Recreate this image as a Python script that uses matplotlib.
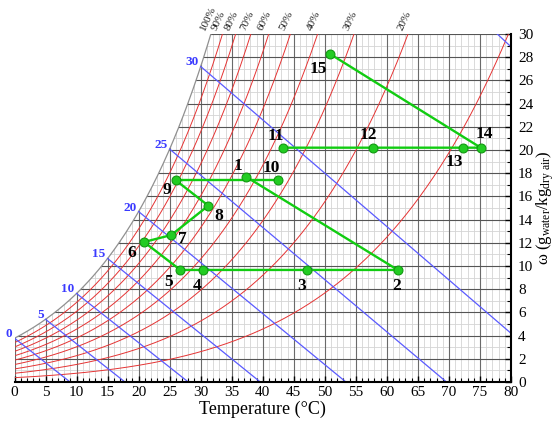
import numpy as np
import matplotlib
matplotlib.use("Agg")
import matplotlib.pyplot as plt
from matplotlib.patches import Polygon

plt.rcParams['font.family'] = ['Liberation Serif', 'DejaVu Serif']
plt.rcParams['mathtext.fontset'] = 'custom'
plt.rcParams['mathtext.rm'] = 'Liberation Serif'
plt.rcParams['mathtext.it'] = 'Liberation Serif:italic'

# ---- data ----
rh_levels = [10, 20, 30, 40, 50, 60, 70, 80, 90, 100]
rh_labels = ['20%', '30%', '40%', '50%', '60%', '70%', '80%', '90%', '100%']
wb_temps = [0, 5, 10, 15, 20, 25, 30, 40]
wb_labels = ['0', '5', '10', '15', '20', '25', '30']
wb_end_T = [8.95, 17.8, 28.0, 39.6, 53.4, 69.6, 80.0, 80.0]
wb_end_w = [0.0, 0.0, 0.0, 0.0, 0.0, 0.0, 4.2, 28.9]

pt_names = ['1', '2', '3', '4', '5', '6', '7', '8', '9', '10', '11', '12', '13', '14', '15']
pt_T = [37.30, 61.75, 47.18, 30.33, 26.72, 20.87, 25.27, 31.23, 25.98, 42.41,
        43.22, 57.72, 72.32, 75.12, 50.84]
pt_w = [17.70, 9.66, 9.66, 9.66, 9.66, 12.07, 12.67, 15.20, 17.39, 17.39,
        20.20, 20.20, 20.20, 20.20, 28.28]
paths = [['1', '2', '3', '4', '5', '6', '7', '8', '9'],
         ['9', '10'],
         ['15', '14', '13', '12', '11']]
label_offsets = {'1': (-8, 11), '2': (-1, -16), '3': (-6, -16), '4': (-6, -16),
                 '5': (-12, -12), '6': (-12, -11), '7': (11, -4), '8': (10, -10),
                 '9': (-9, -10), '10': (-6, 12), '11': (-7, 12), '12': (-4, 13),
                 '13': (-9, -14), '14': (4, 14), '15': (-12, -15)}

x_ticks = list(range(0, 81, 5))
y_ticks = list(range(0, 31, 2))

P = 101.325


def psat(T):
    return 0.61121 * np.exp((18.678 - T / 234.5) * (T / (257.14 + T)))


def omega(T, phi):
    pv = phi * psat(T)
    return 622.0 * pv / (P - pv)


fig = plt.figure(figsize=(5.57, 4.21), dpi=100)
ax = fig.add_axes([14.5 / 557, 39 / 421, 496.5 / 557, 348 / 421])
ax.set_xlim(0, 80)
ax.set_ylim(0, 30)

# clip region under saturation curve
Ts = np.linspace(-0.3, 33, 400)
ws = omega(Ts, 1.0)
poly_pts = [(-0.3, -1.0)] + list(zip(Ts, ws)) + [(81, ws[-1]), (81, -1.0)]
clip_poly = Polygon(poly_pts, closed=True, transform=ax.transData, facecolor='none',
                    edgecolor='none')
ax.add_patch(clip_poly)

# grid
minor_x = [v for v in range(0, 81) if v % 5]
minor_y = [v for v in range(0, 31) if v % 2]
g1 = ax.vlines(minor_x, 0, 30, colors='#d4d4d4', linewidth=0.6, zorder=1)
g2 = ax.hlines(minor_y, 0, 80, colors='#d4d4d4', linewidth=0.6, zorder=1)
g3 = ax.vlines(x_ticks, 0, 30, colors='#6a6a6a', linewidth=0.8, zorder=1.2)
g4 = ax.hlines(y_ticks, 0, 80, colors='#555555', linewidth=0.8, zorder=1.2)
for g in (g1, g2, g3, g4):
    g.set_clip_path(clip_poly)

# relative humidity curves
T = np.linspace(0, 80, 1200)
for phi in rh_levels:
    w = omega(T, phi / 100.0)
    if phi == 100:
        ax.plot(T, w, color='#909090', lw=0.9, zorder=2)
    else:
        ax.plot(T, w, color='#e53333', lw=0.7, zorder=2)

for phi, lab in zip(rh_levels[1:], rh_labels):
    w = omega(T, phi / 100.0)
    T30 = np.interp(30.0, w, T)
    ax.annotate(lab, xy=(T30, 30), xytext=(-4, 2), textcoords='offset pixels',
                rotation=65, rotation_mode='anchor', ha='left', va='bottom',
                fontsize=8, color='#222222', annotation_clip=False)

# wet-bulb lines
for tw, te, we in zip(wb_temps, wb_end_T, wb_end_w):
    ax.plot([tw, te], [omega(tw, 1.0), we], color='#5a5aff', lw=0.9, zorder=2.5)
for tw, lab in zip(wb_temps, wb_labels):
    ax.annotate(lab, xy=(tw, omega(tw, 1.0)), xytext=(-2, 4), textcoords='offset pixels',
                ha='right', va='center', fontsize=9.5, fontweight='bold', color='#3a3aff',
                annotation_clip=False)

# process lines
idx = {n: i for i, n in enumerate(pt_names)}
for p in paths:
    ax.plot([pt_T[idx[n]] for n in p], [pt_w[idx[n]] for n in p], color='#11cc11',
            lw=1.7, zorder=4, solid_capstyle='round')
ax.plot(pt_T, pt_w, 'o', ms=6.4, mfc='#22cc22', mec='#119911', mew=0.8, zorder=5,
        linestyle='none')
for n, t, w in zip(pt_names, pt_T, pt_w):
    dx, dy = label_offsets[n]
    ax.annotate(n, xy=(t, w), xytext=(dx, dy), textcoords='offset pixels',
                ha='center', va='center', fontsize=12.5, fontweight='bold', color='black',
                zorder=6)

# axes styling
for s in ('left', 'top'):
    ax.spines[s].set_visible(False)
for s in ('bottom', 'right'):
    ax.spines[s].set_linewidth(1.5)
    ax.spines[s].set_color('black')
    ax.spines[s].set_zorder(7)
ax.yaxis.tick_right()
ax.yaxis.set_label_position('right')
ax.set_xticks(x_ticks)
ax.set_yticks(y_ticks)
ax.set_xticks(list(range(0, 81)), minor=True)
ax.set_yticks(list(range(0, 31)), minor=True)
ax.tick_params(axis='both', which='major', direction='in', length=4, width=1,
               labelsize=11, pad=3)
ax.tick_params(axis='y', which='major', pad=5)
ax.tick_params(axis='both', which='minor', direction='in', length=3, width=0.8)
ax.tick_params(axis='x', which='both', top=False)
ax.tick_params(axis='y', which='both', left=False, right=True)
ax.set_xlabel('Temperature (°C)', fontsize=13, labelpad=1)
ax.set_ylabel(r'ω (g$_{\mathrm{water}}$/kg$_{\mathrm{dry\ air}}$)', fontsize=12,
              labelpad=1)

fig.savefig('out.png', dpi=100)
